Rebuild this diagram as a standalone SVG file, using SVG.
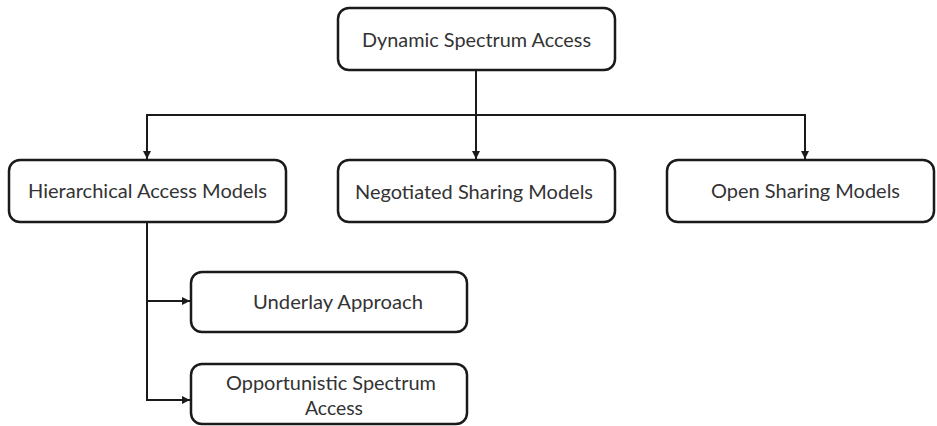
<svg xmlns="http://www.w3.org/2000/svg" width="937" height="426" viewBox="0 0 937 426">
  <defs>
    <style>
      .box { fill: #ffffff; stroke: #1a1a1a; stroke-width: 2.5; }
      .lbl { font-family: Lato, "Open Sans", "Liberation Sans", sans-serif; font-size: 19px; fill: #333333; text-anchor: middle; }
      .wire { fill: none; stroke: #1a1a1a; stroke-width: 2; }
    </style>
    <marker id="arrow" viewBox="0 0 10 10" refX="10" refY="5" markerWidth="4" markerHeight="4" orient="auto">
      <path d="M0,0 L10,5 L0,10 z" fill="#1a1a1a"/>
    </marker>
  </defs>
  <rect width="937" height="426" fill="#ffffff"/>

  <g id="connectors">
    <line class="wire" x1="476" y1="70" x2="476" y2="115"/>
    <line class="wire" x1="147" y1="115" x2="805" y2="115"/>
    <line class="wire" x1="147" y1="114" x2="147" y2="159" marker-end="url(#arrow)"/>
    <line class="wire" x1="476" y1="115" x2="476" y2="159" marker-end="url(#arrow)"/>
    <line class="wire" x1="805" y1="114" x2="805" y2="159" marker-end="url(#arrow)"/>
    <line class="wire" x1="147" y1="222" x2="147" y2="401"/>
    <line class="wire" x1="146" y1="301" x2="190" y2="301" marker-end="url(#arrow)"/>
    <line class="wire" x1="146" y1="400" x2="190" y2="400" marker-end="url(#arrow)"/>
  </g>

  <g id="dynamic-spectrum-access">
    <rect class="box" x="338" y="8" width="277" height="62" rx="11"/>
    <text class="lbl" x="476.5" y="47" textLength="229" lengthAdjust="spacingAndGlyphs">Dynamic Spectrum Access</text>
  </g>

  <g id="hierarchical-access-models">
    <rect class="box" x="9" y="160" width="277" height="62" rx="11"/>
    <text class="lbl" x="147.5" y="198" textLength="239" lengthAdjust="spacingAndGlyphs">Hierarchical Access Models</text>
  </g>

  <g id="negotiated-sharing-models">
    <rect class="box" x="338" y="160" width="277" height="62" rx="11"/>
    <text class="lbl" x="474" y="199" textLength="238" lengthAdjust="spacingAndGlyphs">Negotiated Sharing Models</text>
  </g>

  <g id="open-sharing-models">
    <rect class="box" x="667" y="160" width="267" height="62" rx="11"/>
    <text class="lbl" x="805.5" y="198" textLength="189" lengthAdjust="spacingAndGlyphs">Open Sharing Models</text>
  </g>

  <g id="underlay-approach">
    <rect class="box" x="191" y="272" width="276" height="60" rx="11"/>
    <text class="lbl" x="338" y="309" textLength="170" lengthAdjust="spacingAndGlyphs">Underlay Approach</text>
  </g>

  <g id="opportunistic-spectrum-access">
    <rect class="box" x="191" y="364" width="276" height="60" rx="11"/>
    <text class="lbl" x="331" y="390" textLength="210" lengthAdjust="spacingAndGlyphs">Opportunistic Spectrum</text>
    <text class="lbl" x="334" y="415" textLength="58" lengthAdjust="spacingAndGlyphs">Access</text>
  </g>
</svg>
